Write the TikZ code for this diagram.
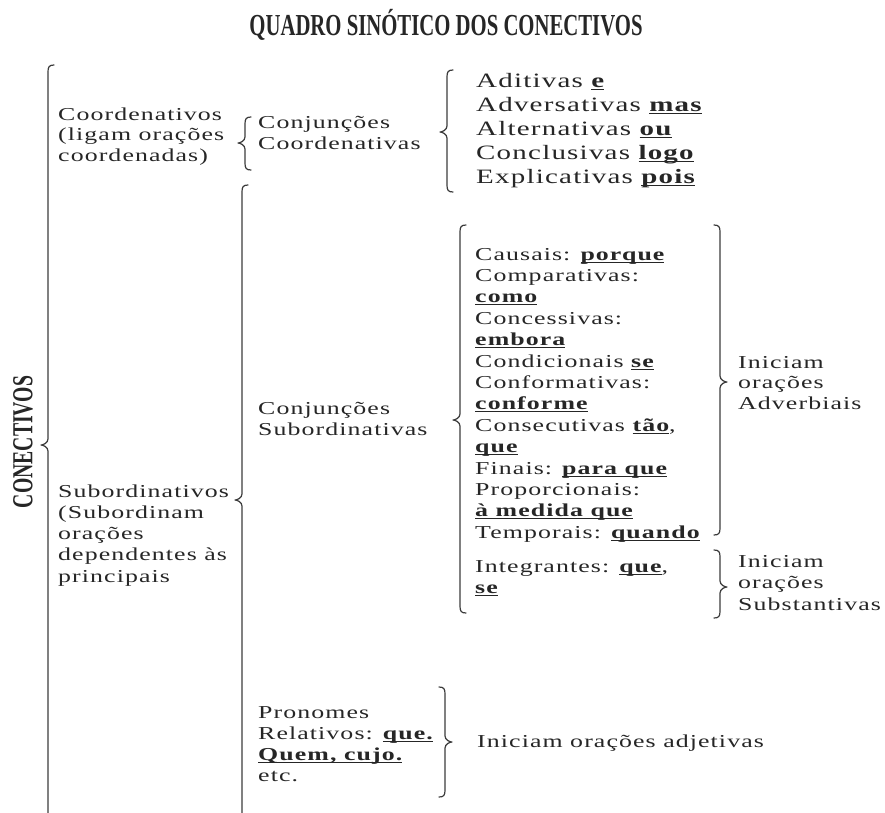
\documentclass[tikz,border=0pt]{standalone}
\usepackage{fontspec}
\setmainfont{Liberation Serif}[FakeStretch=1.42,LetterSpace=6]
\newfontfamily\ttlfont{Liberation Serif}[FakeStretch=0.68]
\definecolor{ink}{HTML}{262626}
\newcommand\ml[2]{\vtop{\baselineskip=#1\lineskiplimit=-100pt\lineskip=0pt\halign{##\hfil\cr#2\crcr}}}
\newcommand\ulbf[1]{\setbox0\hbox{\bfseries #1}\rlap{\rule[-2.6pt]{\wd0}{1.1pt}}\box0}
% left brace: x, top, tip, bottom, tip depth
\newcommand\LBr[5]{\draw[brc] ({#1+6},#2) .. controls ({#1+1},#2) and (#1,{#2+2}) .. (#1,{#2+7}) -- (#1,{#3-6}) .. controls (#1,{#3-2}) and ({#1-#5+2},#3) .. ({#1-#5},#3) .. controls ({#1-#5+2},#3) and (#1,{#3+2}) .. (#1,{#3+6}) -- (#1,{#4-7}) .. controls (#1,{#4-2}) and ({#1+1},#4) .. ({#1+6},#4);}
% right brace
\newcommand\RBr[5]{\draw[brc] ({#1-6},#2) .. controls ({#1-1},#2) and (#1,{#2+2}) .. (#1,{#2+7}) -- (#1,{#3-6}) .. controls (#1,{#3-2}) and ({#1+#5-2},#3) .. ({#1+#5},#3) .. controls ({#1+#5-2},#3) and (#1,{#3+2}) .. (#1,{#3+6}) -- (#1,{#4-7}) .. controls (#1,{#4-2}) and ({#1-1},#4) .. ({#1-6},#4);}
\begin{document}
\begin{tikzpicture}[x=1pt,y=-1pt,
  brc/.style={draw=ink!90, line width=1.2pt, line cap=round, line join=round},
  txt/.style={anchor=base west, inner sep=0pt, text=ink, font=\fontsize{18.2}{21.5}\selectfont},
  bigtxt/.style={txt, font=\fontsize{20.4}{24}\selectfont},
  ttl/.style={text=ink, inner sep=0pt, font=\ttlfont\bfseries\fontsize{30.5}{34}\selectfont}]
\fill[white] (0,0) rectangle (885,812);
\useasboundingbox (0,0) rectangle (885,812);

% title and root
\node[ttl, anchor=base] (title) at (446,35) {QUADRO SINÓTICO DOS CONECTIVOS};
\node[ttl, rotate=90, font=\ttlfont\bfseries\fontsize{29}{30}\selectfont] (root) at (23,442) {CONECTIVOS};

% coordenativos branch
\node[txt] (coord) at (58,120) {\ml{20.5pt}{Coordenativos\cr (ligam orações\cr coordenadas)}};
\node[txt] (conjcoord) at (258,128) {\ml{21.5pt}{Conjunções\cr Coordenativas}};
\node[bigtxt] (adit) at (476,87) {\ml{24pt}{Aditivas \ulbf{e}\cr Adversativas \ulbf{mas}\cr Alternativas \ulbf{ou}\cr Conclusivas \ulbf{logo}\cr Explicativas \ulbf{pois}}};

% subordinativos branch
\node[txt] (subord) at (58,497) {\ml{21.3pt}{Subordinativos\cr (Subordinam\cr orações\cr dependentes às\cr principais}};
\node[txt] (conjsub) at (258,414) {\ml{21.5pt}{Conjunções\cr Subordinativas}};
\node[txt] (advlist) at (475,260) {\ml{21.4pt}{Causais: \ulbf{porque}\cr Comparativas:\cr \ulbf{como}\cr Concessivas:\cr \ulbf{embora}\cr Condicionais \ulbf{se}\cr Conformativas:\cr \ulbf{conforme}\cr Consecutivas \ulbf{tão},\cr \ulbf{que}\cr Finais: \ulbf{para que}\cr Proporcionais:\cr \ulbf{à medida que}\cr Temporais: \ulbf{quando}}};
\node[txt] (integr) at (475,572) {\ml{21pt}{Integrantes: \ulbf{que},\cr \ulbf{se}}};
\node[txt] (iniadv) at (738,368) {\ml{20.5pt}{Iniciam\cr orações\cr Adverbiais}};
\node[txt] (inisub) at (738,567) {\ml{21.5pt}{Iniciam\cr orações\cr Substantivas}};
\node[txt] (pron) at (258,718) {\ml{21pt}{Pronomes\cr Relativos: \ulbf{que.}\cr \ulbf{Quem, cujo.}\cr etc.}};
\node[txt] (iniadj) at (477,747) {Iniciam orações adjetivas};

% braces
\LBr{48}{65}{445}{840}{7}
\LBr{245}{117}{143}{170}{7}
\LBr{447}{70}{132}{192}{7}
\LBr{242}{185}{500}{840}{7}
\LBr{460}{225}{420}{613}{7}
\RBr{720}{225}{382}{535}{7}
\RBr{720}{550}{587}{618}{7}
\RBr{445}{687}{742}{797}{7}
\end{tikzpicture}
\end{document}
